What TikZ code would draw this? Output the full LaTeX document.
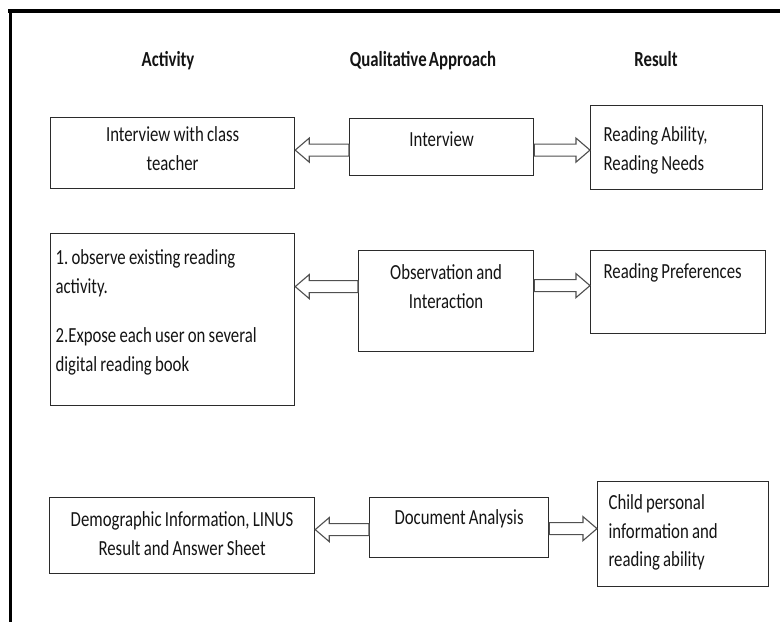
\documentclass[tikz,border=0pt]{standalone}
\usepackage{fontspec}
\setmainfont{Carlito}[FakeStretch=0.78, WordSpace=0.6]
\frenchspacing
\usepackage{tikz}
\usetikzlibrary{calc}
\definecolor{boxline}{HTML}{2B2B2B}
\definecolor{arrowline}{HTML}{505050}
\tikzset{
  box/.style={draw=boxline, line width=1.2pt, rectangle, anchor=north west,
    inner xsep=6pt, inner ysep=0pt, text=black!92,
    font=\fontsize{21.5pt}{28.5pt}\selectfont,
    execute at begin node={\spaceskip=0.15em\relax}},
  heading/.style={anchor=base, text=black!92,
    font=\fontsize{21.5pt}{28.5pt}\selectfont\bfseries},
  hollow/.style={draw=arrowline, fill=white, line width=1.1pt,
    to path={let \p1=(\tikztostart), \p2=(\tikztotarget),
      \n1={ifthenelse(\x2>\x1,1,-1)} in
      (\x1,\y1+6pt) -- (\x2-14pt*\n1,\y1+6pt) -- (\x2-14pt*\n1,\y1+12pt)
      -- (\x2,\y1) -- (\x2-14pt*\n1,\y1-12pt) -- (\x2-14pt*\n1,\y1-6pt)
      -- (\x1,\y1-6pt) -- cycle}}
}
\begin{document}
\begin{tikzpicture}[x=1pt, y=-1pt]
  \useasboundingbox (0,0) rectangle (780,622);
  \draw[line width=4pt] (8,11) -- (780,11);
  \draw[line width=3pt] (10,9.5) -- (10,622);

  \node[heading] (activity) at (168,66) {Activity};
  \node[heading] (approach) at (423,66) {Qualitative Approach};
  \node[heading] (result) at (656,66) {Result};

  \node[box, align=center, text width=232pt, text height=24pt, text depth=47pt]
    (a1) at (50,117) {Interview with class\\teacher};
  \node[box, align=center, text width=172pt, text height=28pt, text depth=29pt]
    (q1) at (349,118) {Interview};
  \node[box, align=left, inner xsep=13pt, text width=146pt, text height=36pt, text depth=48pt]
    (r1) at (590,105) {Reading Ability,\\Reading Needs};

  \node[box, align=left, inner xsep=5pt, text width=234pt, text height=31pt, text depth=141pt]
    (a2) at (50,233) {1. observe existing reading\\activity.\\[21pt]2.Expose each user on several\\digital reading book};
  \node[box, align=center, text width=163pt, text height=29pt, text depth=72pt]
    (q2) at (358,250) {Observation and\\Interaction};
  \node[box, align=left, inner xsep=13pt, text width=149pt, text height=28pt, text depth=55pt]
    (r2) at (590,250) {Reading Preferences};

  \node[box, align=center, text width=253pt, text height=29pt, text depth=47pt]
    (a3) at (49,497) {Demographic Information, LINUS\\Result and Answer Sheet};
  \node[box, align=center, text width=167pt, text height=27pt, text depth=33pt]
    (q3) at (369,497) {Document Analysis};
  \node[box, align=left, inner xsep=11pt, text width=149pt, text height=28pt, text depth=77pt]
    (r3) at (597,481) {Child personal\\information and\\reading ability};

  \draw[hollow] ([yshift=-3pt]q1.west) to (a1.east);
  \draw[hollow] ([yshift=-3pt]q1.east) to (r1.west);
  \draw[hollow] ([yshift=14.5pt]q2.west) to (a2.east);
  \draw[hollow] ([yshift=15.5pt]q2.east) to (r2.west);
  \draw[hollow] ([yshift=-2pt]q3.west) to (a3.east);
  \draw[hollow] ([yshift=-1pt]q3.east) to (r3.west);
\end{tikzpicture}
\end{document}
